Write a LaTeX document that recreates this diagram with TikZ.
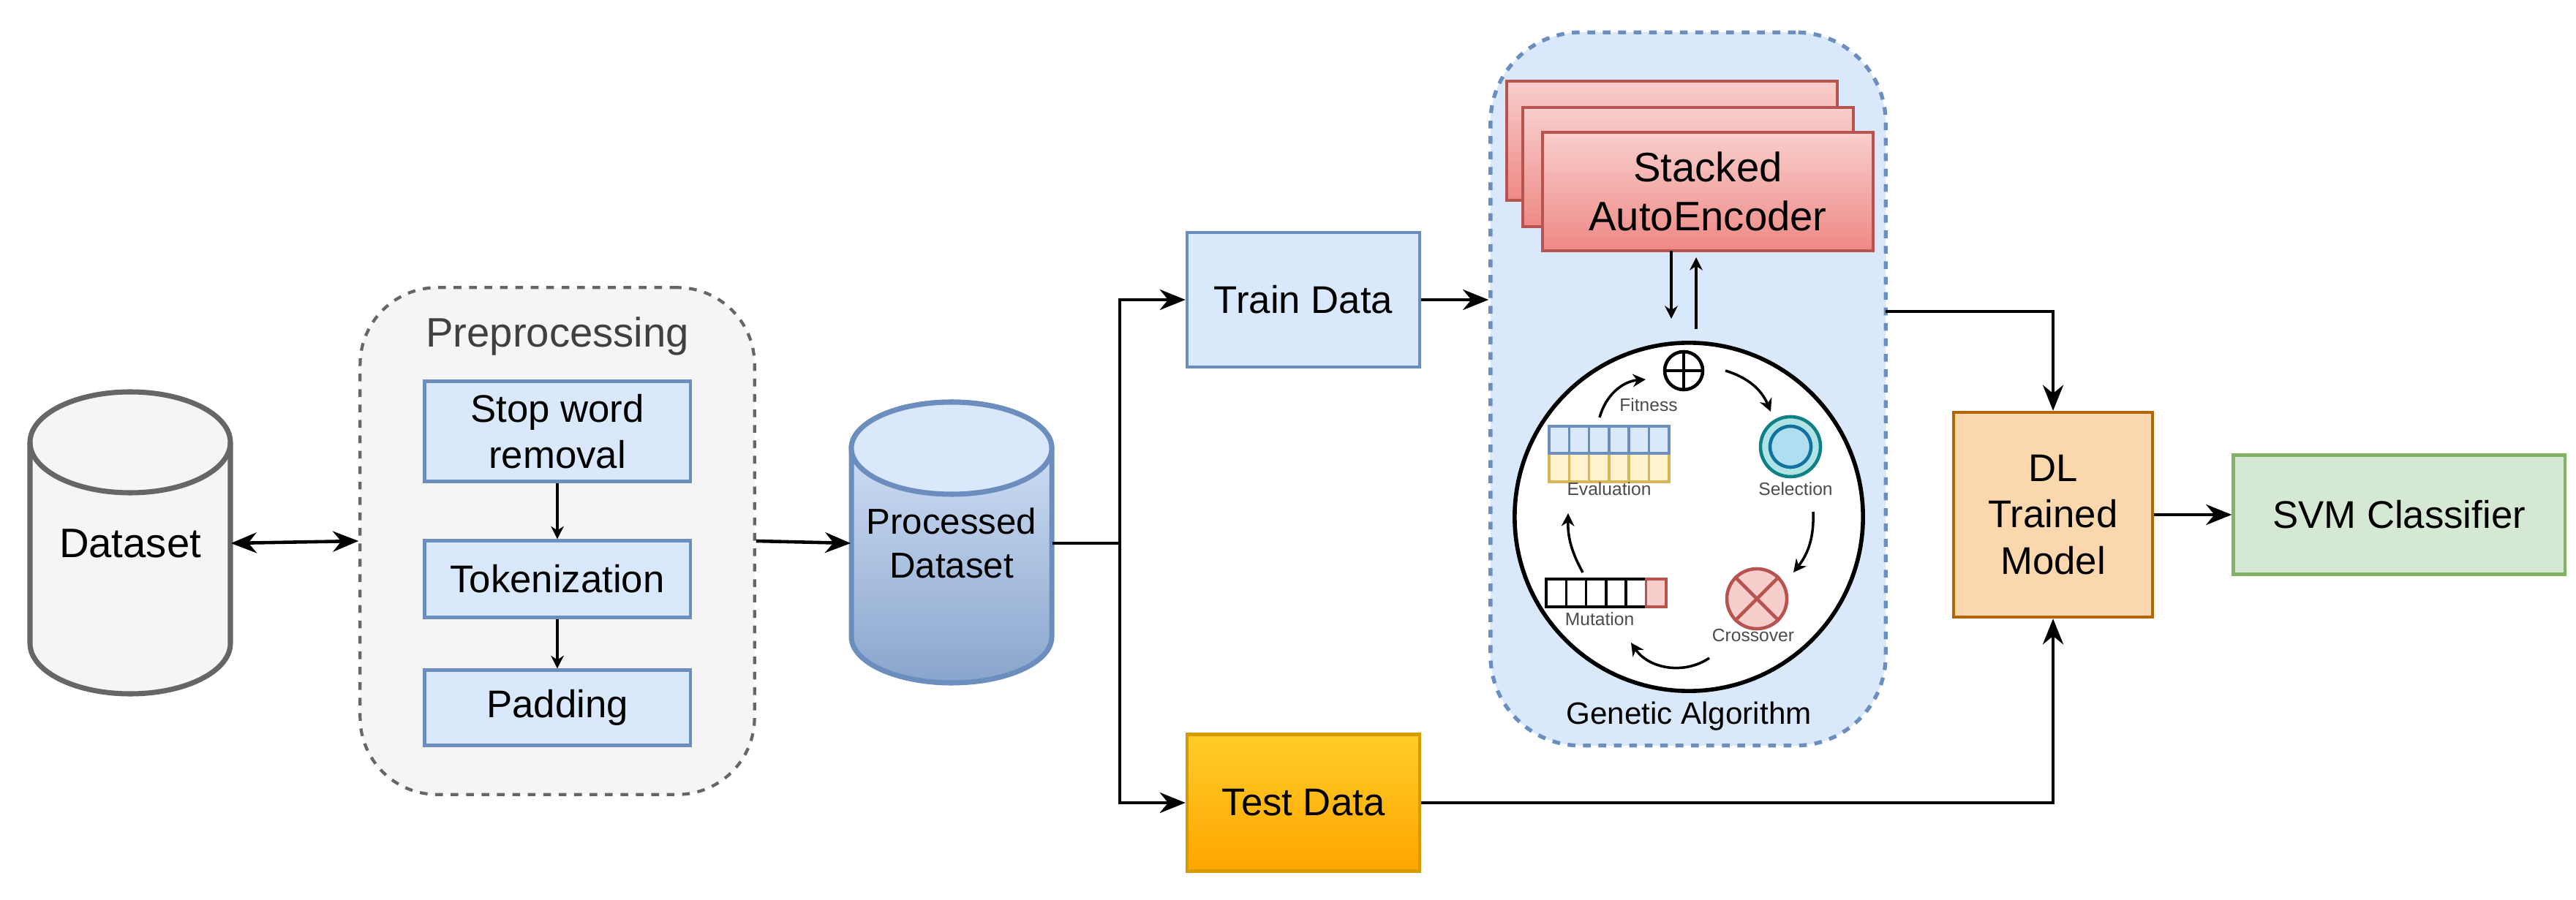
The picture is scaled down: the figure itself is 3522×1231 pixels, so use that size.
\documentclass[tikz,border=0pt]{standalone}
\usepackage{fontspec}
\setmainfont{Liberation Sans}
\usetikzlibrary{positioning,arrows.meta,shapes.geometric}

\definecolor{blueFill}{HTML}{DAE8FC}
\definecolor{blueLine}{HTML}{6C8EBF}
\definecolor{grayFill}{HTML}{F5F5F5}
\definecolor{grayLine}{HTML}{666666}
\definecolor{redFill}{HTML}{F8CECC}
\definecolor{redDeep}{HTML}{EA6B66}
\definecolor{redLine}{HTML}{B85450}
\definecolor{orangeFill}{HTML}{FAD7AC}
\definecolor{orangeLine}{HTML}{B46504}
\definecolor{greenFill}{HTML}{D5E8D4}
\definecolor{greenLine}{HTML}{82B366}
\definecolor{yellowFill}{HTML}{FFF2CC}
\definecolor{yellowLine}{HTML}{D6B656}

\tikzset{
    box/.style={draw=blueLine, fill=blueFill, line width=1.2pt, align=center, font=\fontsize{15}{18}\selectfont},
    prepstep/.style={box, minimum width=3.63cm},
    flow/.style={-{Stealth[length=10pt,width=8pt]}, line width=1.3pt},
    small/.style={-{Stealth[length=5pt,width=5pt]}, line width=1pt},
    tiny/.style={font=\fontsize{7}{8}\selectfont, text=black!70},
    ae/.style={draw=redLine, line width=1pt, top color=redFill, bottom color=redDeep!80}
}

\begin{document}
\begin{tikzpicture}[x=0.01cm, y=-0.01cm]
    \useasboundingbox (0,0) rectangle (3522,1231);

    % Dataset cylinder
    \draw[grayLine, fill=grayFill, line width=2pt]
        (41,605) -- (41,880) arc[start angle=180, end angle=360, x radius=137, y radius=-69]
        -- (315,605) arc[start angle=0, end angle=180, x radius=137, y radius=-69] -- cycle;
    \draw[grayLine, line width=2pt] (41,605) arc[start angle=180, end angle=360, x radius=137, y radius=-69];
    \node[minimum width=2.74cm, minimum height=3.4cm, font=\fontsize{16}{19}\selectfont] (data) at (178,743) {Dataset};

    % Preprocessing group
    \node[draw=grayLine, fill=grayFill, dashed, line width=1.2pt, rounded corners=30pt,
          minimum width=5.39cm, minimum height=6.93cm] (prep) at (762,740) {};
    \node[font=\fontsize{16}{19}\selectfont, text=black!75] at (762,460) {Preprocessing};
    \node[prepstep, minimum height=1.37cm] (stop) at (762,590) {Stop word\\removal};
    \node[prepstep, minimum height=1.05cm] (token) at (762,792) {Tokenization};
    \node[prepstep, minimum height=1.03cm] (pad) at (762,968) {Padding};
    \draw[small] (stop) -- (token);
    \draw[small] (token) -- (pad);

    % Processed dataset cylinder
    \draw[blueLine, top color=blueFill, bottom color=blueLine!80, line width=2pt]
        (1164,613) -- (1164,871) arc[start angle=180, end angle=360, x radius=137, y radius=-63]
        -- (1438,613) arc[start angle=0, end angle=180, x radius=137, y radius=-63] -- cycle;
    \draw[blueLine, fill=blueFill, line width=2pt] (1301,613) ellipse[x radius=137, y radius=63];
    \node[minimum width=2.74cm, minimum height=3.2cm, align=center, font=\fontsize{14}{17}\selectfont] (proc) at (1301,743) {Processed\\Dataset};

    \draw[{Stealth[length=10pt,width=8pt]}-{Stealth[length=10pt,width=8pt]}, line width=1.3pt] (data.east) -- (prep.west);
    \draw[flow] (prep.east) -- (proc.west);

    % Train / test split
    \node[box, minimum width=3.18cm, minimum height=1.84cm] (train) at (1782,410) {Train Data};
    \node[box, draw={rgb,255:red,215;green,155;blue,0}, top color={rgb,255:red,255;green,205;blue,40},
          bottom color={rgb,255:red,255;green,165;blue,0}, minimum width=3.18cm, minimum height=1.87cm] (test) at (1782,1098) {Test Data};
    \coordinate (split) at (1531,743);
    \draw[line width=1.3pt] (proc.east) -- (split);
    \draw[flow] (split) |- (train.west);
    \draw[flow] (split) |- (test.west);

    % Genetic algorithm group
    \node[draw=blueLine, fill=blueFill, dashed, line width=1.5pt, rounded corners=35pt,
          minimum width=5.40cm, minimum height=9.75cm] (ga) at (2308,532) {};
    \draw[flow] (train.east) -- (train.east -| ga.west);
    \draw[ae] (2060,111) rectangle (2512,274);
    \draw[ae] (2082,147) rectangle (2534,310);
    \node[ae, minimum width=4.52cm, minimum height=1.62cm, align=center, font=\fontsize{16}{19}\selectfont] (sae) at (2335,262) {Stacked\\AutoEncoder};

    \node[draw, fill=white, circle, line width=1.6pt, minimum size=4.76cm] (cycle) at (2309,707) {};
    \draw[small] (2285,343) -- (2285,436);
    \draw[small] (2319,450) -- (2319,352);
    \node[font=\fontsize{12}{14}\selectfont] at (2309,980) {Genetic Algorithm};

    % Fitness
    \node[draw, circle, line width=1.3pt, minimum size=0.52cm] (fit) at (2302,507) {};
    \draw[line width=1.3pt] (fit.north) -- (fit.south) (fit.west) -- (fit.east);
    \node[tiny] at (2254,554) {Fitness};
    % Selection
    \node[draw={rgb,255:red,14;green,128;blue,136}, fill={rgb,255:red,176;green,227;blue,230}, circle, line width=1.3pt, minimum size=0.82cm] (sel) at (2448,611) {};
    \node[draw={rgb,255:red,16;green,115;blue,158}, fill={rgb,255:red,177;green,221;blue,240}, circle, line width=1.3pt, minimum size=0.56cm] at (sel) {};
    \node[tiny] at (2455,669) {Selection};
    % Crossover
    \node[draw=redLine, fill=redFill, circle, line width=1.3pt, minimum size=0.82cm] (cross) at (2402,819) {};
    \draw[redLine, line width=1.3pt] (cross.north west) -- (cross.south east) (cross.north east) -- (cross.south west);
    \node[tiny] at (2397,869) {Crossover};
    % Mutation
    \foreach \i in {0,...,5} {
        \ifnum\i=5
            \draw[redLine, fill=redFill, line width=1pt] (2114+\i*27.3,792) rectangle ++(27.3,38);
        \else
            \draw[line width=1pt] (2114+\i*27.3,792) rectangle ++(27.3,38);
        \fi
    }
    \node[tiny] at (2187,847) {Mutation};
    % Evaluation
    \foreach \i in {0,...,5} {
        \draw[yellowLine, fill=yellowFill, line width=1pt] (2118+\i*27.3,620) rectangle ++(27.3,39);
        \draw[blueLine, fill=blueFill, line width=1pt] (2118+\i*27.3,583) rectangle ++(27.3,37);
    }
    \node[tiny] at (2200,669) {Evaluation};

    % GA loop
    \draw[small] (2187,571) to[bend left=35] (2250,519);
    \draw[small] (2359,507) to[bend left=25] (2421,563);
    \draw[small] (2479,700) to[bend left=20] (2452,783);
    \draw[small] (2337,900) to[bend left=45] (2230,879);
    \draw[small] (2164,783) to[bend left=15] (2144,702);

    % Output
    \node[box, draw=orangeLine, fill=orangeFill, minimum width=2.72cm, minimum height=2.8cm] (dl) at (2807,704) {DL\\Trained\\Model};
    \node[box, draw=greenLine, fill=greenFill, minimum width=4.53cm, minimum height=1.63cm] (svm) at (3280,704) {SVM Classifier};
    \coordinate (gaout) at (2578,426);
    \draw[flow] (gaout) -| (dl.north);
    \draw[flow] (test.east) -| (dl.south);
    \draw[flow] (dl.east) -- (svm.west);
\end{tikzpicture}
\end{document}
